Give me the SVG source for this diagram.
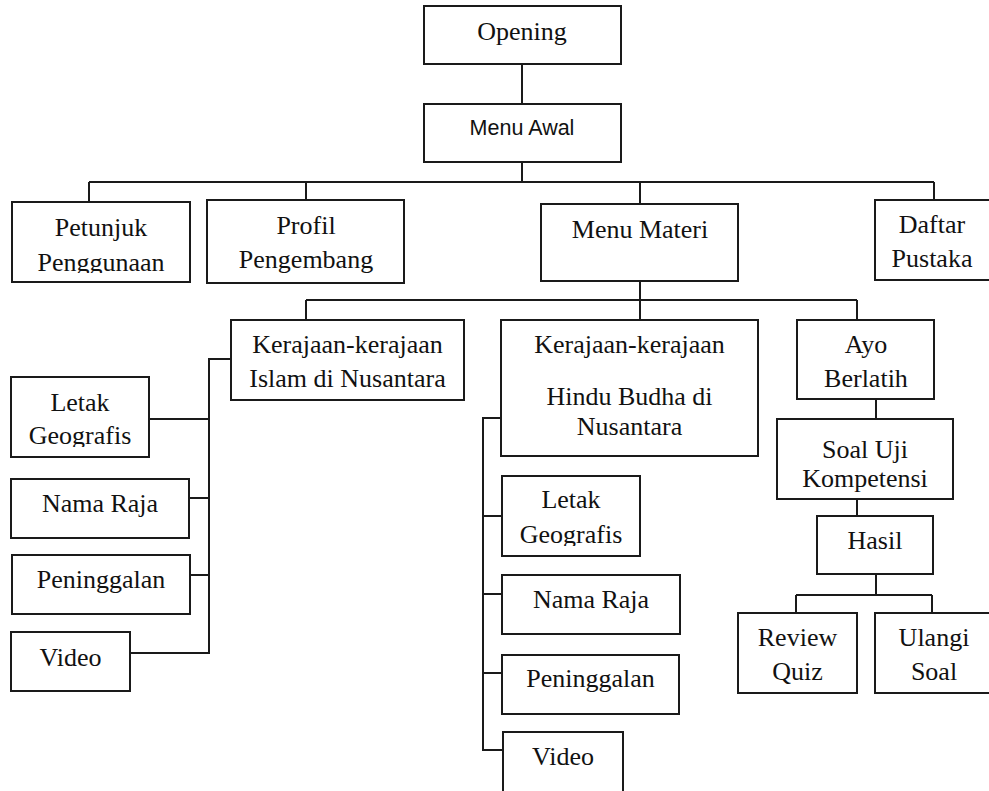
<svg xmlns="http://www.w3.org/2000/svg" width="989" height="791" viewBox="0 0 989 791">
<style>
rect.box{fill:#fff;stroke:#1a1a1a;stroke-width:2}
text{font-family:"Liberation Serif","Times New Roman",serif;font-size:26px;fill:#111;text-anchor:middle}
text.sans{font-family:"Liberation Sans",Arial,sans-serif;font-size:21.5px}
#connectors path{fill:none;stroke:#1a1a1a;stroke-width:2}
</style>
<defs>
<clipPath id="clipPetunjuk"><rect x="12" y="202" width="178" height="71"/></clipPath>
<clipPath id="clipLetakL"><rect x="11" y="377" width="138" height="70"/></clipPath>
<clipPath id="clipLetakR"><rect x="502" y="476" width="138" height="70"/></clipPath>
</defs>
<rect width="989" height="791" fill="#fff"/>
<g id="connectors">
<path d="M522 64V104"/>
<path d="M522 162V182M89 182H934M89 182V202M306 182V200M640 182V204M934 182V200"/>
<path d="M640 281V320M306 300H857M306 300V320M857 300V320"/>
<path d="M231 359H209V653H130M149 419H209M189 498H209M190 575H209"/>
<path d="M501 418H483V750H503M483 516H502M483 594H502M483 673H502"/>
<path d="M876 399V419M857 499V516M876 574V595M796 595H932M796 595V613M932 595V613"/>
</g>
<g id="opening"><rect class="box" x="424" y="6" width="197" height="58"/><text x="522" y="40">Opening</text></g>
<g id="menu-awal"><rect class="box" x="424" y="104" width="197" height="58"/><text class="sans" x="522" y="135">Menu Awal</text></g>
<g id="petunjuk"><rect class="box" x="12" y="202" width="178" height="80"/><g clip-path="url(#clipPetunjuk)"><text x="101" y="236">Petunjuk</text><text x="101" y="271">Penggunaan</text></g></g>
<g id="profil"><rect class="box" x="207" y="200" width="197" height="83"/><text x="306" y="234">Profil</text><text x="306" y="268">Pengembang</text></g>
<g id="menu-materi"><rect class="box" x="541" y="204" width="197" height="77"/><text x="640" y="238">Menu Materi</text></g>
<g id="daftar-pustaka"><rect class="box" x="875" y="200" width="117" height="80"/><text x="932" y="233">Daftar</text><text x="932" y="267">Pustaka</text></g>
<g id="islam"><rect class="box" x="231" y="320" width="233" height="80"/><text x="347.5" y="353">Kerajaan-kerajaan</text><text x="347.5" y="387">Islam di Nusantara</text></g>
<g id="islam-letak"><rect class="box" x="11" y="377" width="138" height="80"/><g clip-path="url(#clipLetakL)"><text x="80" y="411">Letak</text><text x="80" y="444">Geografis</text></g></g>
<g id="islam-raja"><rect class="box" x="11" y="479" width="178" height="59"/><text x="100" y="512">Nama Raja</text></g>
<g id="islam-peninggalan"><rect class="box" x="12" y="555" width="178" height="59"/><text x="101" y="588">Peninggalan</text></g>
<g id="islam-video"><rect class="box" x="11" y="632" width="119" height="59"/><text x="70.5" y="666">Video</text></g>
<g id="hindu"><rect class="box" x="501" y="320" width="257" height="136"/><text x="629.5" y="353">Kerajaan-kerajaan</text><text x="629.5" y="405">Hindu Budha di</text><text x="629.5" y="435">Nusantara</text></g>
<g id="hindu-letak"><rect class="box" x="502" y="476" width="138" height="80"/><g clip-path="url(#clipLetakR)"><text x="571" y="508">Letak</text><text x="571" y="543">Geografis</text></g></g>
<g id="hindu-raja"><rect class="box" x="502" y="575" width="178" height="59"/><text x="591" y="608">Nama Raja</text></g>
<g id="hindu-peninggalan"><rect class="box" x="502" y="655" width="177" height="59"/><text x="590.5" y="687">Peninggalan</text></g>
<g id="hindu-video"><rect class="box" x="503" y="732" width="120" height="62"/><text x="563" y="765">Video</text></g>
<g id="ayo-berlatih"><rect class="box" x="797" y="320" width="137" height="79"/><text x="866" y="353">Ayo</text><text x="866" y="387">Berlatih</text></g>
<g id="soal-uji"><rect class="box" x="777" y="419" width="176" height="80"/><text x="865" y="458">Soal Uji</text><text x="865" y="487">Kompetensi</text></g>
<g id="hasil"><rect class="box" x="817" y="516" width="116" height="58"/><text x="875" y="549">Hasil</text></g>
<g id="review-quiz"><rect class="box" x="738" y="613" width="119" height="80"/><text x="797.5" y="646">Review</text><text x="797.5" y="680">Quiz</text></g>
<g id="ulangi-soal"><rect class="box" x="875" y="613" width="117" height="80"/><text x="934" y="646">Ulangi</text><text x="934" y="680">Soal</text></g>
</svg>
